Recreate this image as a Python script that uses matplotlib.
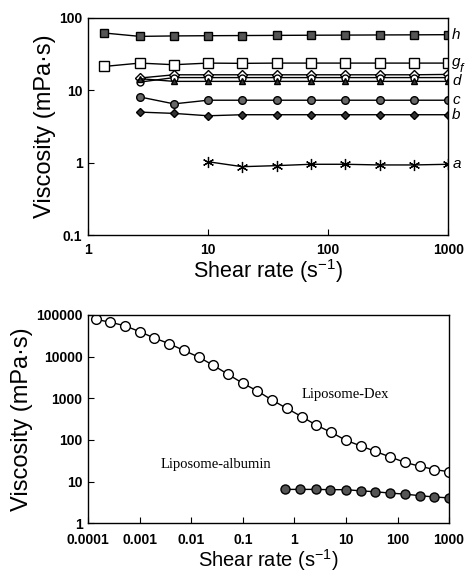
import matplotlib
matplotlib.use("Agg")
import matplotlib.pyplot as plt
from matplotlib.ticker import FixedLocator, FixedFormatter, NullLocator

plt.rcParams["font.family"] = ["Liberation Sans", "DejaVu Sans"]

# ---- top panel data ----
shear_top = [1.37, 2.7, 5.2, 10, 19.3, 37.3, 72, 139, 268, 518, 1000]
visc_h = [62, 55.7, 56.5, 56.9, 57.2, 57.5, 57.8, 58, 58.3, 58.5, 58.8]
visc_g = [21.4, 23.8, 22.6, 23.8, 23.6, 23.8, 23.8, 23.8, 23.8, 23.8, 23.8]
visc_f = [None, 14.8, 16.4, 16.4, 16.4, 16.4, 16.4, 16.4, 16.4, 16.4, 16.6]
visc_e = [None, 13.0, 15.0, 15.0, 15.0, 15.0, 15.0, 15.0, 15.0, 15.0, 15.0]
visc_d = [None, 14.5, 13.3, 13.3, 13.3, 13.3, 13.3, 13.3, 13.3, 13.3, 13.3]
visc_c = [None, 8.1, 6.5, 7.3, 7.3, 7.3, 7.3, 7.3, 7.3, 7.3, 7.3]
visc_b = [None, 5.0, 4.8, 4.45, 4.6, 4.6, 4.6, 4.6, 4.6, 4.6, 4.6]
visc_a = [None, None, None, 1.03, 0.88, 0.91, 0.95, 0.95, 0.93, 0.93, 0.95]

# ---- bottom panel data ----
shear_dex = [1.4e-4, 2.7e-4, 5.2e-4, 1.0e-3, 1.93e-3, 3.7e-3, 7.2e-3, 0.0139,
             0.0268, 0.0518, 0.1, 0.193, 0.373, 0.72, 1.39, 2.68, 5.18, 10,
             19.3, 37.3, 72, 139, 268, 518, 1000]
visc_dex = [79000, 67000, 55000, 40000, 28000, 20600, 14100, 9800, 6200, 3760,
            2300, 1490, 900, 570, 362, 226, 152, 98, 72, 53, 39, 29, 23.4,
            19.5, 17.2]
shear_alb = [0.66, 1.3, 2.6, 5.0, 10, 19.3, 37.3, 72, 139, 268, 518, 1000]
visc_alb = [6.5, 6.5, 6.5, 6.4, 6.4, 6.0, 5.7, 5.3, 5.0, 4.6, 4.27, 4.06]

top_xticks = [1, 10, 100, 1000]
top_xlabels = ["1", "10", "100", "1000"]
top_yticks = [0.1, 1, 10, 100]
top_ylabels = ["0.1", "1", "10", "100"]
bot_xticks = [0.0001, 0.001, 0.01, 0.1, 1, 10, 100, 1000]
bot_xlabels = ["0.0001", "0.001", "0.01", "0.1", "1", "10", "100", "1000"]
bot_yticks = [1, 10, 100, 1000, 10000, 100000]
bot_ylabels = ["1", "10", "100", "1000", "10000", "100000"]

fig = plt.figure(figsize=(4.69, 5.75), dpi=100)
ax1 = fig.add_axes([0.1876, 0.5913, 0.768, 0.3774])
ax2 = fig.add_axes([0.1876, 0.0900, 0.770, 0.3622])

series = [
    ("h", visc_h, dict(marker="s", mfc="#555555", mec="black", ms=6)),
    ("g", visc_g, dict(marker="s", mfc="white", mec="black", ms=7)),
    ("f", visc_f, dict(marker="D", mfc="white", mec="black", ms=5)),
    ("e", visc_e, dict(marker="o", mfc="white", mec="black", ms=5)),
    ("d", visc_d, dict(marker="^", mfc="#333333", mec="black", ms=5)),
    ("c", visc_c, dict(marker="o", mfc="#666666", mec="black", ms=5.5)),
    ("b", visc_b, dict(marker="D", mfc="#333333", mec="black", ms=4.5)),
    ("a", visc_a, dict(marker=(6, 2, 0), mfc="black", mec="black", ms=8, mew=0.9)),
]

for name, vals, style in series:
    xs = [x for x, v in zip(shear_top, vals) if v is not None]
    ys = [v for v in vals if v is not None]
    ax1.plot(xs, ys, color="black", lw=1.0, **style)

labels_right = [("h", 1080, 58.8, 11), ("g", 1080, 24.5, 11), ("f", 1250, 20.0, 9),
                ("d", 1080, 13.3, 11), ("c", 1080, 7.3, 11), ("b", 1080, 4.6, 11),
                ("a", 1080, 0.95, 11)]
for lab, xv, yv, fs in labels_right:
    ax1.text(xv, yv, lab, fontsize=fs, style="italic", va="center", ha="left",
             clip_on=False)

ax1.set_xscale("log")
ax1.set_yscale("log")
ax1.set_xlim(1, 1000)
ax1.set_ylim(0.1, 100)

ax2.plot(shear_dex, visc_dex, color="black", lw=1.0, marker="o", mfc="white",
         mec="black", ms=7)
ax2.plot(shear_alb, visc_alb, color="black", lw=1.0, marker="o", mfc="#555555",
         mec="black", ms=6.5)
ax2.text(1.4, 1250, "Liposome-Dex", family="Liberation Serif", fontsize=10.5,
         va="center")
ax2.text(0.0026, 26, "Liposome-albumin", family="Liberation Serif", fontsize=10.5,
         va="center")

ax2.set_xscale("log")
ax2.set_yscale("log")
ax2.set_xlim(0.0001, 1000)
ax2.set_ylim(1, 100000)

panels = [(ax1, top_xticks, top_xlabels, top_yticks, top_ylabels),
          (ax2, bot_xticks, bot_xlabels, bot_yticks, bot_ylabels)]
for ax, xt, xl, yt, yl in panels:
    ax.xaxis.set_major_locator(FixedLocator(xt))
    ax.xaxis.set_major_formatter(FixedFormatter(xl))
    ax.yaxis.set_major_locator(FixedLocator(yt))
    ax.yaxis.set_major_formatter(FixedFormatter(yl))
    ax.xaxis.set_minor_locator(NullLocator())
    ax.yaxis.set_minor_locator(NullLocator())
    ax.tick_params(direction="in", length=4, labelsize=10, width=0.8, pad=4)
    for lbl in ax.get_xticklabels() + ax.get_yticklabels():
        lbl.set_fontweight("bold")
    for sp in ax.spines.values():
        sp.set_linewidth(1.0)
    ax.set_ylabel("Viscosity (mPa·s)", fontsize=17, labelpad=2)

ax1.tick_params(axis="x", pad=6)
ax1.set_xlabel("Shear rate (s$^{\\mathregular{-1}}$)", fontsize=15.5, labelpad=0)
ax2.tick_params(axis="x", pad=7)
ax2.set_xlabel("Shear rate (s$^{\\mathregular{-1}}$)", fontsize=14.5, labelpad=0)

fig.savefig("out.png", dpi=100)
